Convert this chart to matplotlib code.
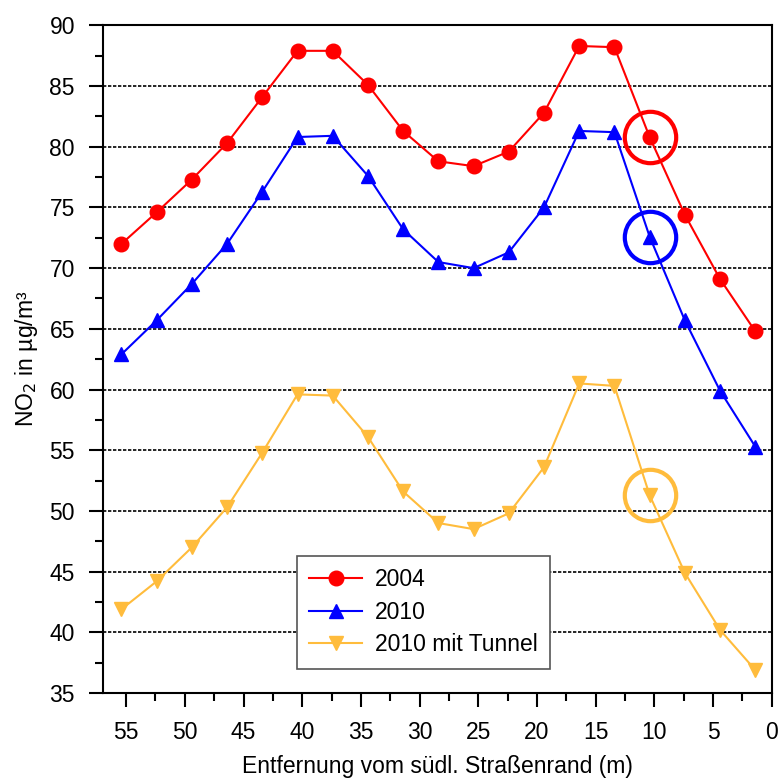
import matplotlib.pyplot as plt
from matplotlib.ticker import MultipleLocator

plt.rcParams['font.family'] = ['Liberation Sans', 'DejaVu Sans']

# distance from southern road edge (m)
dist = [55.4, 52.4, 49.4, 46.4, 43.4, 40.4, 37.4, 34.4, 31.4, 28.4,
        25.4, 22.4, 19.4, 16.4, 13.4, 10.4, 7.4, 4.4, 1.4]
no2_2004 = [72.0, 74.6, 77.3, 80.3, 84.1, 87.9, 87.9, 85.1, 81.3, 78.8,
            78.4, 79.6, 82.8, 88.3, 88.2, 80.8, 74.4, 69.1, 64.8]
no2_2010 = [62.9, 65.7, 68.7, 72.0, 76.3, 80.8, 80.9, 77.6, 73.2, 70.5,
            70.0, 71.3, 75.0, 81.3, 81.2, 72.6, 65.7, 59.9, 55.3]
no2_tunnel = [41.9, 44.2, 47.0, 50.3, 54.8, 59.6, 59.5, 56.1, 51.6, 49.0,
              48.5, 49.8, 53.6, 60.5, 60.3, 51.3, 44.9, 40.2, 36.9]
highlight = 15  # circled point

orange = '#FFBC3C'
fs = 16.5

fig = plt.figure(figsize=(7.82, 7.82), dpi=100)
ax = fig.add_axes([0.1313, 0.1138, 0.8555, 0.8538])

ax.plot(dist, no2_2004, color='red', marker='o', ms=10.5, lw=1.5, label='2004')
ax.plot(dist, no2_2010, color='blue', marker='^', ms=10.5, lw=1.5, label='2010')
ax.plot(dist, no2_tunnel, color=orange, marker='v', ms=10.5, lw=1.5, label='2010 mit Tunnel')

for ys, c in [(no2_2004, 'red'), (no2_2010, 'blue'), (no2_tunnel, orange)]:
    ax.plot(dist[highlight], ys[highlight], marker='o', ms=37, mfc='none',
            mec=c, mew=3, ls='none')

ax.set_xlim(57, 0)
ax.set_ylim(35, 90)
ax.xaxis.set_major_locator(MultipleLocator(5))
ax.xaxis.set_minor_locator(MultipleLocator(2.5))
ax.yaxis.set_major_locator(MultipleLocator(5))
ax.yaxis.set_minor_locator(MultipleLocator(2.5))

for y in range(40, 90, 5):
    ax.axhline(y, color='black', lw=1.2, ls=(0, (2, 1)), zorder=0)

ax.tick_params(which='major', direction='out', length=10, width=1.5,
               labelsize=fs, pad=10)
ax.tick_params(which='minor', direction='out', length=5.5, width=1.5)
for s in ax.spines.values():
    s.set_linewidth(1.5)

ax.set_xlabel('Entfernung vom südl. Straßenrand (m)', fontsize=fs, labelpad=8)
ax.set_ylabel('NO$_2$ in µg/m³', fontsize=fs, labelpad=7)

leg = ax.legend(loc='lower left', bbox_to_anchor=(0.29, 0.036), fontsize=fs,
                fancybox=False, edgecolor='#555555', framealpha=1,
                handlelength=2.3, handletextpad=0.55, borderpad=0.55,
                labelspacing=0.42, borderaxespad=0)
leg.get_frame().set_linewidth(1.2)

fig.savefig('out.png', dpi=100)
